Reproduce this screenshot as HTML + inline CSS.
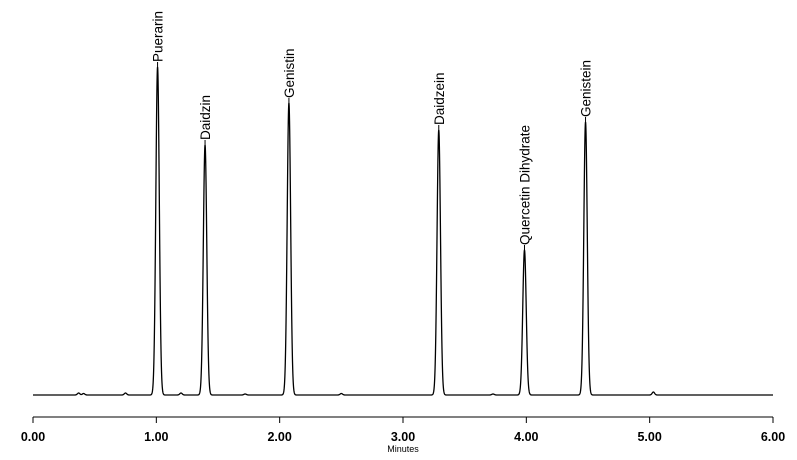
<!DOCTYPE html>
<html><head><meta charset="utf-8"><style>
html,body{margin:0;padding:0;background:#fff;}
svg{display:block;font-family:"Liberation Sans",Arial,sans-serif;}
</style></head><body>
<svg id="chart" width="797" height="460" viewBox="0 0 797 460"></svg>
<script>
const peakNames = ["Puerarin","Daidzin","Genistin","Daidzein","Quercetin Dihydrate","Genistein"];
const peakTimes = [1.01, 1.395, 2.075, 3.29, 3.985, 4.48];
const peakHeights = [328, 250, 292, 265, 145, 273];
const minorTimes = [0.37, 0.41, 0.75, 1.20, 1.72, 2.50, 3.73, 5.03];
const minorHeights = [2, 1.5, 2, 2, 1, 1.5, 1, 3];
const tickValues = [0, 1, 2, 3, 4, 5, 6];
const tickLabels = ["0.00","1.00","2.00","3.00","4.00","5.00","6.00"];

const NS = "http://www.w3.org/2000/svg";
const svg = document.getElementById("chart");
const x0 = 33, x1 = 773, baseY = 395, axisY = 417;
const xScale = t => x0 + (t / 6) * (x1 - x0);
const yScale = v => baseY - v;
function mk(tag, attrs) { const e = document.createElementNS(NS, tag); for (const k in attrs) e.setAttribute(k, attrs[k]); svg.appendChild(e); return e; }

function signal(t) {
  let s = 0;
  for (let i = 0; i < peakTimes.length; i++) { const d = (t - peakTimes[i]) / 0.014; s += peakHeights[i] * Math.exp(-0.5 * d * d); }
  for (let i = 0; i < minorTimes.length; i++) { const d = (t - minorTimes[i]) / 0.01; s += minorHeights[i] * Math.exp(-0.5 * d * d); }
  return s;
}
let pts = [];
for (let t = 0; t <= 6.0001; t += 0.001) pts.push(xScale(t).toFixed(2) + "," + yScale(signal(t)).toFixed(2));
const trace = mk("polyline", { points: pts.join(" "), fill: "none", stroke: "#000", "stroke-width": 1.3 });



for (let i = 0; i < peakNames.length; i++) {
  const px = xScale(peakTimes[i]), py = yScale(peakHeights[i]);
  const tk = mk("line", { x1: px, y1: py, x2: px, y2: py - 5, stroke: "#000", "stroke-width": 1 });
  
  
  const tx = mk("text", { x: 0, y: 0, "font-size": 13.5, transform: "translate(" + (px + 5) + "," + (py - 5) + ") rotate(-90)" });
  tx.textContent = peakNames[i];
  
  
}

const ax = mk("line", { x1: x0, y1: axisY, x2: x1, y2: axisY, stroke: "#000", "stroke-width": 1 });


for (let i = 0; i < tickValues.length; i++) {
  const x = xScale(tickValues[i]);
  const t = mk("line", { x1: x, y1: axisY, x2: x, y2: axisY + 6, stroke: "#000", "stroke-width": 1 });
  
  
  const lb = mk("text", { x: x, y: 441, "font-size": 12.5, "font-weight": "bold", "text-anchor": "middle" });
  lb.textContent = tickLabels[i];
  
  
}
const title = mk("text", { x: 403, y: 452, "font-size": 9, "text-anchor": "middle" });
title.textContent = "Minutes";


</script>
</body></html>
